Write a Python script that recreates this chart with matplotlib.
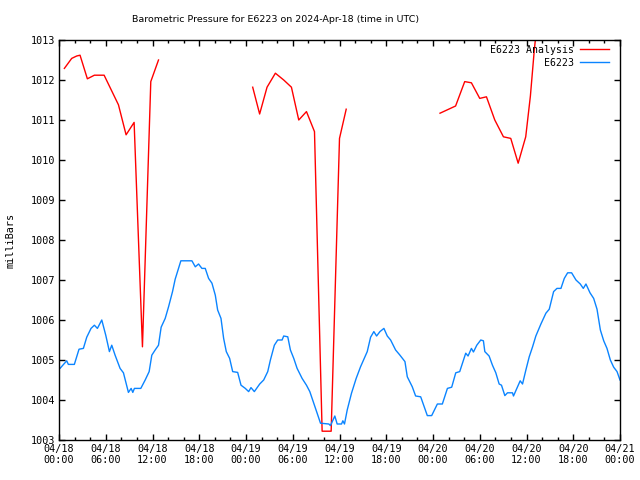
import numpy as np
import matplotlib
matplotlib.use("Agg")
import matplotlib.pyplot as plt

# Hours since 2024-04-18 00:00 UTC
red_hours = [0.69, 1.63, 2.27, 2.70, 3.64, 4.54, 5.79, 7.63, 8.61, 9.64, 10.71, 11.78, 12.77, np.nan,
             24.86, 25.75, 26.70, 27.77, 28.84, 29.83, 30.77, 31.76, 32.79, 33.77, 34.93, 36.0, 36.86, np.nan,
             48.9, 50.9, 52.07, 52.93, 54.0, 54.86, 55.93, 57.04, 57.98, 58.93, 59.9, 60.5, 61.0, 61.3]
red_vals = [1012.29, 1012.54, 1012.60, 1012.62, 1012.03, 1012.12, 1012.12, 1011.38, 1010.63, 1010.94, 1005.33, 1011.96, 1012.50, np.nan,
            1011.82, 1011.15, 1011.82, 1012.17, 1012.00, 1011.82, 1011.00, 1011.21, 1010.71, 1003.22, 1003.22, 1010.54, 1011.27, np.nan,
            1011.17, 1011.35, 1011.96, 1011.93, 1011.54, 1011.58, 1011.00, 1010.58, 1010.54, 1009.92, 1010.58, 1011.6, 1012.75, 1013.3]

blue_hours = [0.0, 0.13, 0.99, 1.2, 1.97, 2.57, 3.13, 3.56, 4.11, 4.54, 4.93, 5.49, 6.0, 6.47, 6.77, 7.2, 7.84, 8.27,
              8.91, 9.26, 9.47, 9.68, 10.5, 11.06, 11.57, 11.91, 12.34, 12.77, 13.11, 13.63, 14.06, 14.57, 14.91,
              15.64, 17.06, 17.49, 17.91, 18.34, 18.77, 19.2, 19.63, 20.06, 20.36, 20.79, 21.13, 21.47, 21.9, 22.29,
              22.93, 23.36, 23.91, 24.34, 24.64, 25.07, 25.76, 26.27, 26.79, 27.13, 27.64, 28.07, 28.63, 28.84, 29.36,
              29.7, 30.13, 30.56, 31.2, 31.76, 32.19, 32.7, 33.13, 33.56, 34.63, 34.84, 35.4, 35.7, 36.26, 36.43, 36.64,
              36.99, 37.54, 38.14, 38.7, 39.56, 39.99, 40.41, 40.76, 41.19, 41.7, 42.13, 42.56, 43.2, 43.72, 44.4, 44.7,
              45.34, 45.77, 46.42, 46.84, 47.27, 47.83, 48.56, 49.2, 49.85, 50.4, 50.92, 51.43, 52.2, 52.5, 52.93, 53.19,
              53.62, 54.13, 54.47, 54.65, 55.2, 55.63, 56.06, 56.49, 56.79, 57.22, 57.56, 58.2, 58.33, 58.76, 59.19,
              59.49, 59.92, 60.35, 60.78, 61.2, 61.85, 62.49, 62.92, 63.48, 63.91, 64.42, 64.85, 65.28, 65.79, 66.35,
              66.9, 67.29, 67.63, 68.15, 68.62, 69.05, 69.48, 69.91, 70.33, 70.76, 71.19, 71.62, 72.0]
blue_vals = [1004.79, 1004.79, 1004.98, 1004.89, 1004.89, 1005.27, 1005.29, 1005.57, 1005.79, 1005.87, 1005.79, 1006.0,
             1005.62, 1005.21, 1005.37, 1005.12, 1004.79, 1004.68, 1004.19, 1004.29, 1004.19, 1004.29, 1004.29, 1004.5,
             1004.71, 1005.12, 1005.25, 1005.37, 1005.82, 1006.04, 1006.33, 1006.71, 1007.02, 1007.48, 1007.48, 1007.33,
             1007.4, 1007.29, 1007.29, 1007.04, 1006.92, 1006.62, 1006.25, 1006.04, 1005.54, 1005.21, 1005.04, 1004.71,
             1004.69, 1004.37, 1004.29, 1004.21, 1004.31, 1004.21, 1004.4, 1004.5, 1004.71, 1005.0, 1005.37, 1005.5,
             1005.5, 1005.6, 1005.58, 1005.25, 1005.04, 1004.79, 1004.54, 1004.37, 1004.21, 1003.92, 1003.67, 1003.42,
             1003.4, 1003.36, 1003.6, 1003.4, 1003.4, 1003.48, 1003.4, 1003.75, 1004.17, 1004.54, 1004.83, 1005.21,
             1005.57, 1005.71, 1005.6, 1005.71, 1005.79, 1005.6, 1005.5, 1005.25, 1005.13, 1004.96, 1004.58, 1004.33,
             1004.1, 1004.08, 1003.85, 1003.61, 1003.61, 1003.9, 1003.9, 1004.29, 1004.32, 1004.68, 1004.71, 1005.17,
             1005.1, 1005.29, 1005.2, 1005.37, 1005.5, 1005.48, 1005.21, 1005.1, 1004.87, 1004.68, 1004.4, 1004.37,
             1004.11, 1004.18, 1004.18, 1004.1, 1004.29, 1004.48, 1004.4, 1004.75, 1005.08, 1005.33, 1005.6, 1005.9,
             1006.17, 1006.27, 1006.71, 1006.79, 1006.79, 1007.04, 1007.18, 1007.18, 1007.0, 1006.9, 1006.79, 1006.9,
             1006.68, 1006.54, 1006.27, 1005.75, 1005.48, 1005.29, 1005.0, 1004.82, 1004.71, 1004.5]

x_tick_hours = [0, 6, 12, 18, 24, 30, 36, 42, 48, 54, 60, 66, 72]
x_tick_labels = ["04/18\n00:00", "04/18\n06:00", "04/18\n12:00", "04/18\n18:00",
                 "04/19\n00:00", "04/19\n06:00", "04/19\n12:00", "04/19\n18:00",
                 "04/20\n00:00", "04/20\n06:00", "04/20\n12:00", "04/20\n18:00",
                 "04/21\n00:00"]
y_ticks = list(range(1003, 1014))

title = "Barometric Pressure for E6223 on 2024-Apr-18 (time in UTC)"
label_red = "E6223 Analysis"
label_blue = "E6223"

MONO = "DejaVu Sans Mono"
SANS = "DejaVu Sans"

fig = plt.figure(figsize=(6.4, 4.8), dpi=100)
ax = fig.add_axes([59/640, 40/480, 561/640, 400/480])

l1, = ax.plot(red_hours, red_vals, color="#ff0000", lw=1.0)
l2, = ax.plot(blue_hours, blue_vals, color="#0a84ff", lw=1.0)

ax.set_xlim(0, 72)
ax.set_ylim(1003, 1013)
ax.set_xticks(x_tick_hours)
ax.set_xticklabels(x_tick_labels, fontsize=7.3, family=MONO, linespacing=1.15)
ax.set_xticks(np.arange(0, 73, 2), minor=True)
ax.set_yticks(y_ticks)
ax.set_yticklabels([str(v) for v in y_ticks], fontsize=7.3, family=MONO)
ax.tick_params(which="major", direction="in", length=4, width=1, top=True, right=True, pad=3)
ax.tick_params(which="minor", direction="in", length=2.2, width=1, top=True, right=False)
ax.tick_params(axis="y", which="minor", left=False, right=False)
for s in ax.spines.values():
    s.set_linewidth(1)

ax.set_ylabel("milliBars", fontsize=7.3, family=MONO, labelpad=11)
fig.text(276/640, 1 - 20/480, title, ha="center", va="center", fontsize=6.8, family=SANS)

leg = ax.legend([l1, l2], [label_red, label_blue], loc="upper right", frameon=False,
                bbox_to_anchor=(1 - 6/561, 1.0),
                markerfirst=False, prop={"family": MONO, "size": 7.1}, handlelength=2.9,
                handletextpad=0.7, borderaxespad=0.2, labelspacing=0.3, borderpad=0.3)
for t in leg.get_texts():
    t.set_ha("right")

fig.savefig("out.png", dpi=100)
